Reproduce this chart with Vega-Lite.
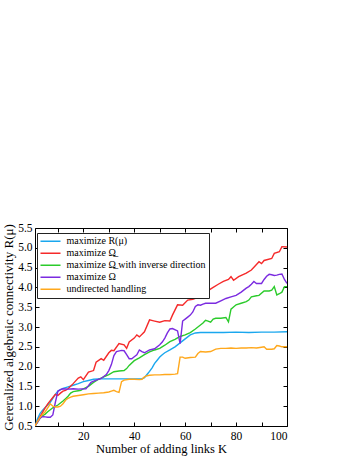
{
  "$schema": "https://vega.github.io/schema/vega-lite/v6.json",
  "width": 252,
  "height": 198,
  "autosize": {"type": "none"},
  "padding": {"left": 35, "top": 228, "right": 67, "bottom": 32},
  "datasets": {
    "d": [
      {"s":"R","k":1,"v":0.5},{"s":"R","k":2,"v":0.68},{"s":"R","k":3,"v":0.82},{"s":"R","k":4,"v":0.9},{"s":"R","k":5,"v":0.97},{"s":"R","k":6,"v":1.03},{"s":"R","k":7,"v":1.1},{"s":"R","k":8,"v":1.2},{"s":"R","k":9,"v":1.3},{"s":"R","k":10,"v":1.38},{"s":"R","k":11,"v":1.42},{"s":"R","k":12,"v":1.45},{"s":"R","k":14,"v":1.49},{"s":"R","k":16,"v":1.53},{"s":"R","k":18,"v":1.57},{"s":"R","k":20,"v":1.62},{"s":"R","k":22,"v":1.65},{"s":"R","k":24,"v":1.68},{"s":"R","k":26,"v":1.69},{"s":"R","k":30,"v":1.69},{"s":"R","k":35,"v":1.69},{"s":"R","k":40,"v":1.69},{"s":"R","k":43,"v":1.69},{"s":"R","k":44,"v":1.72},{"s":"R","k":45,"v":1.8},{"s":"R","k":46,"v":1.88},{"s":"R","k":47,"v":1.97},{"s":"R","k":48,"v":2.08},{"s":"R","k":49,"v":2.16},{"s":"R","k":50,"v":2.24},{"s":"R","k":51,"v":2.3},{"s":"R","k":52,"v":2.35},{"s":"R","k":54,"v":2.42},{"s":"R","k":56,"v":2.5},{"s":"R","k":58,"v":2.6},{"s":"R","k":60,"v":2.7},{"s":"R","k":62,"v":2.8},{"s":"R","k":64,"v":2.85},{"s":"R","k":66,"v":2.86},{"s":"R","k":70,"v":2.86},{"s":"R","k":75,"v":2.86},{"s":"R","k":80,"v":2.87},{"s":"R","k":85,"v":2.86},{"s":"R","k":90,"v":2.87},{"s":"R","k":95,"v":2.87},{"s":"R","k":100,"v":2.88},

      {"s":"O","k":1,"v":0.5},{"s":"O","k":2,"v":0.62},{"s":"O","k":3,"v":0.74},{"s":"O","k":4,"v":0.85},{"s":"O","k":5,"v":0.96},{"s":"O","k":6,"v":1.06},{"s":"O","k":7,"v":1.14},{"s":"O","k":8,"v":1.22},{"s":"O","k":9,"v":1.3},{"s":"O","k":10,"v":1.27},{"s":"O","k":11,"v":1.33},{"s":"O","k":12,"v":1.38},{"s":"O","k":13,"v":1.4},{"s":"O","k":14,"v":1.44},{"s":"O","k":16,"v":1.57},{"s":"O","k":18,"v":1.71},{"s":"O","k":19,"v":1.74},{"s":"O","k":20,"v":1.67},{"s":"O","k":22,"v":1.86},{"s":"O","k":24,"v":1.9},{"s":"O","k":25,"v":2.11},{"s":"O","k":27,"v":2.2},{"s":"O","k":28,"v":2.16},{"s":"O","k":30,"v":2.35},{"s":"O","k":31,"v":2.41},{"s":"O","k":32,"v":2.4},{"s":"O","k":34,"v":2.58},{"s":"O","k":36,"v":2.55},{"s":"O","k":37,"v":2.46},{"s":"O","k":38,"v":2.62},{"s":"O","k":40,"v":2.72},{"s":"O","k":41,"v":2.8},{"s":"O","k":42,"v":2.75},{"s":"O","k":44,"v":2.88},{"s":"O","k":46,"v":3.18},{"s":"O","k":48,"v":3.15},{"s":"O","k":50,"v":3.12},{"s":"O","k":52,"v":3.16},{"s":"O","k":54,"v":3.15},{"s":"O","k":55,"v":3.3},{"s":"O","k":57,"v":3.56},{"s":"O","k":59,"v":3.55},{"s":"O","k":61,"v":3.68},{"s":"O","k":63,"v":3.7},{"s":"O","k":65,"v":3.75},{"s":"O","k":67,"v":3.85},{"s":"O","k":69,"v":3.92},{"s":"O","k":71,"v":4.0},{"s":"O","k":73,"v":4.08},{"s":"O","k":75,"v":4.15},{"s":"O","k":77,"v":4.2},{"s":"O","k":78,"v":4.27},{"s":"O","k":79,"v":4.18},{"s":"O","k":81,"v":4.27},{"s":"O","k":84,"v":4.36},{"s":"O","k":86,"v":4.44},{"s":"O","k":88,"v":4.58},{"s":"O","k":89,"v":4.65},{"s":"O","k":90,"v":4.6},{"s":"O","k":91,"v":4.68},{"s":"O","k":94,"v":4.73},{"s":"O","k":95,"v":4.86},{"s":"O","k":97,"v":4.9},{"s":"O","k":98,"v":5.03},{"s":"O","k":100,"v":5.02},

      {"s":"G","k":1,"v":0.5},{"s":"G","k":2,"v":0.6},{"s":"G","k":3,"v":0.7},{"s":"G","k":4,"v":0.76},{"s":"G","k":5,"v":0.8},{"s":"G","k":6,"v":0.86},{"s":"G","k":8,"v":0.96},{"s":"G","k":10,"v":1.03},{"s":"G","k":12,"v":1.13},{"s":"G","k":13,"v":1.19},{"s":"G","k":14,"v":1.25},{"s":"G","k":15,"v":1.33},{"s":"G","k":16,"v":1.37},{"s":"G","k":18,"v":1.39},{"s":"G","k":19,"v":1.4},{"s":"G","k":20,"v":1.44},{"s":"G","k":22,"v":1.5},{"s":"G","k":24,"v":1.6},{"s":"G","k":26,"v":1.68},{"s":"G","k":28,"v":1.74},{"s":"G","k":30,"v":1.8},{"s":"G","k":32,"v":1.87},{"s":"G","k":34,"v":1.89},{"s":"G","k":36,"v":1.9},{"s":"G","k":37,"v":1.95},{"s":"G","k":38,"v":2.03},{"s":"G","k":40,"v":2.15},{"s":"G","k":42,"v":2.22},{"s":"G","k":44,"v":2.3},{"s":"G","k":46,"v":2.37},{"s":"G","k":48,"v":2.42},{"s":"G","k":50,"v":2.46},{"s":"G","k":52,"v":2.54},{"s":"G","k":54,"v":2.63},{"s":"G","k":56,"v":2.69},{"s":"G","k":58,"v":2.76},{"s":"G","k":60,"v":2.8},{"s":"G","k":62,"v":2.86},{"s":"G","k":64,"v":2.95},{"s":"G","k":66,"v":3.05},{"s":"G","k":67,"v":3.1},{"s":"G","k":68,"v":3.17},{"s":"G","k":69,"v":3.15},{"s":"G","k":70,"v":3.12},{"s":"G","k":71,"v":3.2},{"s":"G","k":72,"v":3.22},{"s":"G","k":74,"v":3.22},{"s":"G","k":76,"v":3.24},{"s":"G","k":77,"v":3.13},{"s":"G","k":78,"v":3.45},{"s":"G","k":80,"v":3.56},{"s":"G","k":82,"v":3.6},{"s":"G","k":84,"v":3.64},{"s":"G","k":85,"v":3.68},{"s":"G","k":86,"v":3.76},{"s":"G","k":88,"v":3.79},{"s":"G","k":89,"v":3.8},{"s":"G","k":91,"v":3.91},{"s":"G","k":93,"v":3.91},{"s":"G","k":94,"v":3.93},{"s":"G","k":95,"v":4.02},{"s":"G","k":96,"v":3.81},{"s":"G","k":97,"v":3.84},{"s":"G","k":98,"v":3.88},{"s":"G","k":99,"v":4.02},{"s":"G","k":100,"v":4.02},

      {"s":"P","k":1,"v":0.5},{"s":"P","k":2,"v":0.6},{"s":"P","k":3,"v":0.7},{"s":"P","k":4,"v":0.74},{"s":"P","k":5,"v":0.73},{"s":"P","k":6,"v":0.72},{"s":"P","k":7,"v":0.72},{"s":"P","k":8,"v":0.78},{"s":"P","k":9,"v":1.1},{"s":"P","k":10,"v":1.38},{"s":"P","k":11,"v":1.42},{"s":"P","k":12,"v":1.44},{"s":"P","k":14,"v":1.43},{"s":"P","k":16,"v":1.44},{"s":"P","k":18,"v":1.43},{"s":"P","k":21,"v":1.44},{"s":"P","k":22,"v":1.52},{"s":"P","k":23,"v":1.6},{"s":"P","k":25,"v":1.66},{"s":"P","k":27,"v":1.7},{"s":"P","k":29,"v":1.8},{"s":"P","k":30,"v":1.9},{"s":"P","k":31,"v":2.05},{"s":"P","k":32,"v":2.28},{"s":"P","k":33,"v":2.38},{"s":"P","k":35,"v":2.41},{"s":"P","k":36,"v":2.4},{"s":"P","k":37,"v":2.3},{"s":"P","k":38,"v":2.2},{"s":"P","k":39,"v":2.2},{"s":"P","k":40,"v":2.25},{"s":"P","k":41,"v":2.3},{"s":"P","k":42,"v":2.42},{"s":"P","k":43,"v":2.38},{"s":"P","k":44,"v":2.35},{"s":"P","k":46,"v":2.42},{"s":"P","k":48,"v":2.45},{"s":"P","k":50,"v":2.55},{"s":"P","k":51,"v":2.62},{"s":"P","k":52,"v":2.72},{"s":"P","k":53,"v":2.85},{"s":"P","k":54,"v":2.95},{"s":"P","k":55,"v":2.96},{"s":"P","k":57,"v":2.9},{"s":"P","k":58,"v":2.58},{"s":"P","k":59,"v":3.15},{"s":"P","k":60,"v":3.2},{"s":"P","k":61,"v":3.25},{"s":"P","k":62,"v":3.3},{"s":"P","k":63,"v":3.38},{"s":"P","k":64,"v":3.52},{"s":"P","k":65,"v":3.56},{"s":"P","k":66,"v":3.55},{"s":"P","k":67,"v":3.58},{"s":"P","k":68,"v":3.6},{"s":"P","k":70,"v":3.6},{"s":"P","k":72,"v":3.6},{"s":"P","k":74,"v":3.66},{"s":"P","k":76,"v":3.72},{"s":"P","k":78,"v":3.76},{"s":"P","k":80,"v":3.8},{"s":"P","k":82,"v":3.88},{"s":"P","k":84,"v":3.98},{"s":"P","k":85,"v":4.02},{"s":"P","k":86,"v":4.08},{"s":"P","k":87,"v":4.15},{"s":"P","k":88,"v":4.1},{"s":"P","k":90,"v":4.1},{"s":"P","k":91,"v":4.2},{"s":"P","k":92,"v":4.28},{"s":"P","k":93,"v":4.33},{"s":"P","k":94,"v":4.32},{"s":"P","k":95,"v":4.3},{"s":"P","k":96,"v":4.31},{"s":"P","k":97,"v":4.33},{"s":"P","k":98,"v":4.34},{"s":"P","k":99,"v":4.2},{"s":"P","k":100,"v":4.1},

      {"s":"U","k":1,"v":0.5},{"s":"U","k":2,"v":0.62},{"s":"U","k":3,"v":0.72},{"s":"U","k":4,"v":0.8},{"s":"U","k":5,"v":0.86},{"s":"U","k":6,"v":0.96},{"s":"U","k":7,"v":1.06},{"s":"U","k":8,"v":1.0},{"s":"U","k":9,"v":0.98},{"s":"U","k":10,"v":0.98},{"s":"U","k":11,"v":1.0},{"s":"U","k":12,"v":1.06},{"s":"U","k":13,"v":1.15},{"s":"U","k":14,"v":1.2},{"s":"U","k":15,"v":1.23},{"s":"U","k":16,"v":1.25},{"s":"U","k":18,"v":1.27},{"s":"U","k":20,"v":1.29},{"s":"U","k":22,"v":1.31},{"s":"U","k":24,"v":1.32},{"s":"U","k":26,"v":1.33},{"s":"U","k":28,"v":1.34},{"s":"U","k":30,"v":1.36},{"s":"U","k":31,"v":1.38},{"s":"U","k":32,"v":1.4},{"s":"U","k":33,"v":1.37},{"s":"U","k":34,"v":1.35},{"s":"U","k":35,"v":1.62},{"s":"U","k":36,"v":1.66},{"s":"U","k":38,"v":1.68},{"s":"U","k":40,"v":1.68},{"s":"U","k":42,"v":1.67},{"s":"U","k":43,"v":1.68},{"s":"U","k":44,"v":1.74},{"s":"U","k":45,"v":1.77},{"s":"U","k":46,"v":1.78},{"s":"U","k":48,"v":1.79},{"s":"U","k":50,"v":1.79},{"s":"U","k":52,"v":1.8},{"s":"U","k":54,"v":1.8},{"s":"U","k":56,"v":1.81},{"s":"U","k":57,"v":1.82},{"s":"U","k":58,"v":2.24},{"s":"U","k":59,"v":2.24},{"s":"U","k":60,"v":2.21},{"s":"U","k":62,"v":2.23},{"s":"U","k":64,"v":2.24},{"s":"U","k":65,"v":2.33},{"s":"U","k":66,"v":2.38},{"s":"U","k":68,"v":2.37},{"s":"U","k":70,"v":2.38},{"s":"U","k":72,"v":2.44},{"s":"U","k":74,"v":2.46},{"s":"U","k":76,"v":2.46},{"s":"U","k":78,"v":2.47},{"s":"U","k":80,"v":2.46},{"s":"U","k":82,"v":2.47},{"s":"U","k":84,"v":2.47},{"s":"U","k":86,"v":2.48},{"s":"U","k":88,"v":2.47},{"s":"U","k":90,"v":2.49},{"s":"U","k":91,"v":2.5},{"s":"U","k":92,"v":2.44},{"s":"U","k":94,"v":2.44},{"s":"U","k":95,"v":2.45},{"s":"U","k":96,"v":2.53},{"s":"U","k":97,"v":2.52},{"s":"U","k":98,"v":2.5},{"s":"U","k":100,"v":2.5}
    ]
  },
  "data": {"name": "d"},
  "layer": [
    {
      "mark": {"type": "line", "strokeWidth": 1.4, "clip": true},
      "encoding": {
        "x": {"field": "k", "type": "quantitative",
          "scale": {"domain": [1, 100], "nice": false, "zero": false},
          "axis": {"orient": "bottom", "values": [10,20,30,40,50,60,70,80,90,100],
            "labelExpr": "datum.value % 20 == 0 ? datum.label : ''",
            "title": "Number of adding links K", "titleFontSize": 12.5, "tickSize": -4, "labelPadding": 8, "titlePadding": 1}},
        "y": {"field": "v", "type": "quantitative",
          "scale": {"domain": [0.5, 5.5], "nice": false, "zero": false},
          "axis": {"orient": "left", "values": [0.5,1,1.5,2,2.5,3,3.5,4,4.5,5,5.5], "format": ".1f",
            "title": "Gereralized algebraic connectivity R(μ)", "titleFontSize": 13, "tickSize": -4, "labelPadding": 7, "titlePadding": 2}},
        "color": {"field": "s", "type": "nominal",
          "scale": {"domain": ["R","O","G","P","U"], "range": ["#1aa7ee","#f52a2a","#2bcb2b","#7b2be0","#ffa81c"]},
          "legend": {"labelExpr": "{'R':'maximize R(μ)','O':'maximize Ω̲','G':'maximize Ω̲ with inverse direction','P':'maximize Ω','U':'undirected handling'}[datum.value]"}},
        "order": {"field": "k", "type": "quantitative"}
      }
    },
    {
      "mark": {"type": "line", "opacity": 0},
      "encoding": {
        "x": {"field": "k", "type": "quantitative",
          "scale": {"domain": [1, 100], "nice": false, "zero": false},
          "axis": {"orient": "top", "values": [10,20,30,40,50,60,70,80,90,100], "labels": false, "title": null, "tickSize": -4}},
        "y": {"field": "v", "type": "quantitative",
          "scale": {"domain": [0.5, 5.5], "nice": false, "zero": false},
          "axis": {"orient": "right", "values": [0.5,1,1.5,2,2.5,3,3.5,4,4.5,5,5.5], "labels": false, "title": null, "tickSize": -4}},
        "detail": {"field": "s", "type": "nominal"}
      }
    }
  ],
  "resolve": {"axis": {"x": "independent", "y": "independent"}},
  "config": {
    "font": "Liberation Serif",
    "view": {"stroke": "#000000", "strokeWidth": 1},
    "axis": {"grid": false, "domain": false, "tickColor": "#000000", "tickWidth": 1,
      "labelFont": "Liberation Serif", "titleFont": "Liberation Serif",
      "labelFontSize": 11.5, "titleFontSize": 12, "labelColor": "#000000", "titleColor": "#000000",
      "titleFontWeight": "normal"},
    "legend": {"orient": "none", "legendX": 2, "legendY": 5, "title": null,
      "strokeColor": "#222222", "fillColor": "#ffffff", "padding": 2.5,
      "symbolType": "stroke", "symbolSize": 400, "symbolStrokeWidth": 1.5,
      "labelFont": "Liberation Serif", "labelFontSize": 10, "labelColor": "#000000",
      "labelOffset": 5, "rowPadding": 0, "clipHeight": 11.7, "labelLimit": 300}
  }
}
